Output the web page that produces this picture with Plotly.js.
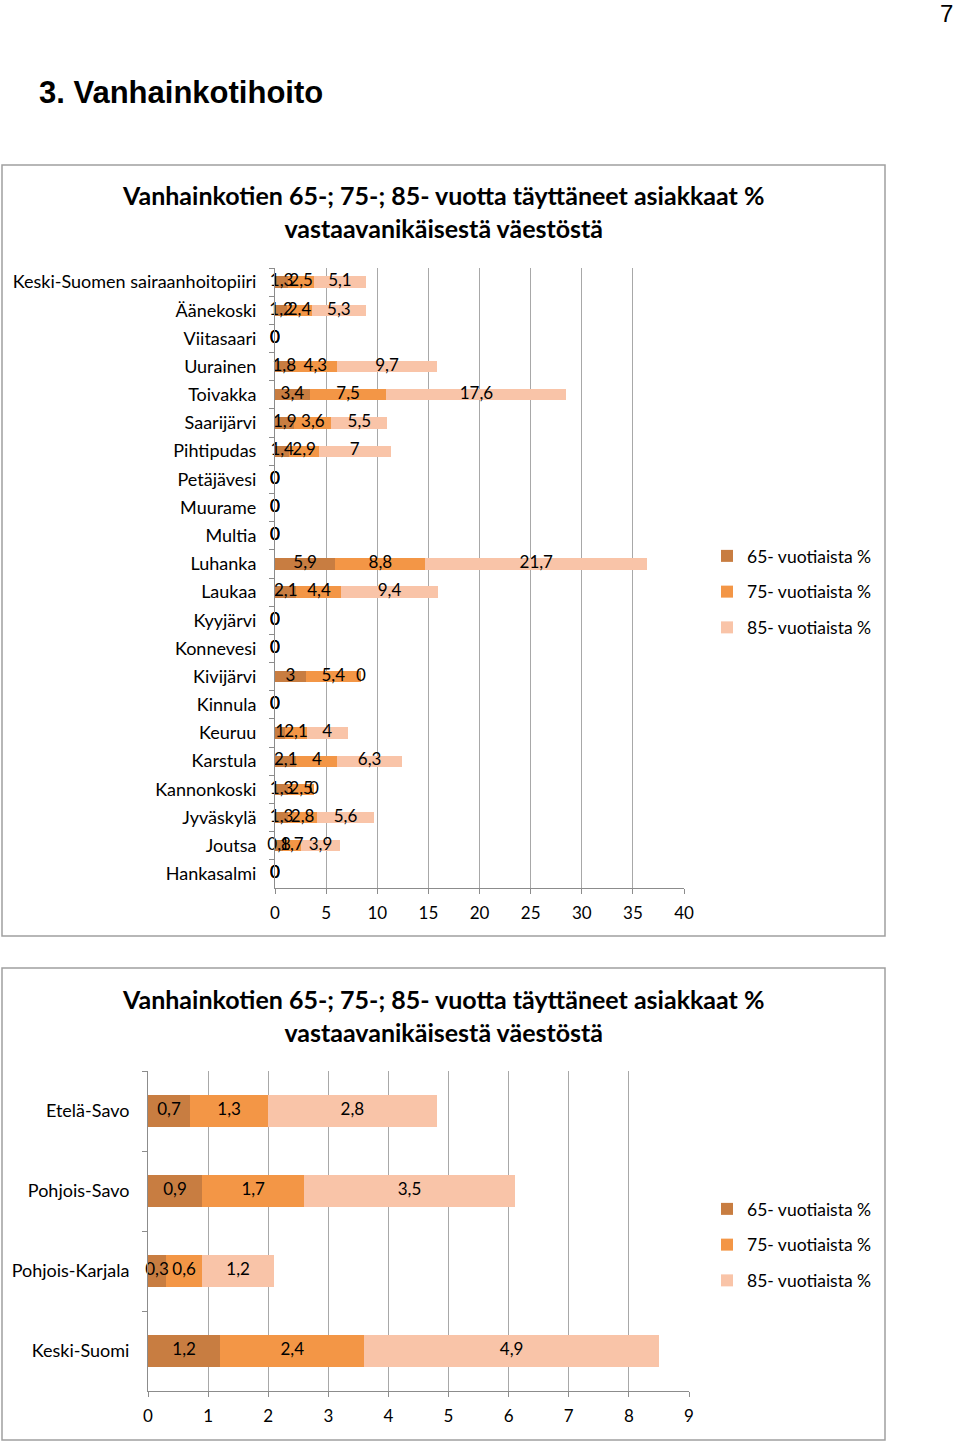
<!DOCTYPE html>
<html>
<head>
<meta charset="utf-8">
<script src="https://cdn.plot.ly/plotly-3.0.1.min.js"></script>
<style>
    html, body { margin: 0; padding: 0; background: #fff; }
    #page { width: 960px; height: 1442px; }
</style>
</head>
<body>
<div id="page"></div>
<script>
    'use strict';

    // top chart: Keski-Suomen kunnat
    var topCategories = ['Keski-Suomen sairaanhoitopiiri', 'Äänekoski', 'Viitasaari', 'Uurainen', 'Toivakka',
        'Saarijärvi', 'Pihtipudas', 'Petäjävesi', 'Muurame', 'Multia', 'Luhanka', 'Laukaa', 'Kyyjärvi',
        'Konnevesi', 'Kivijärvi', 'Kinnula', 'Keuruu', 'Karstula', 'Kannonkoski', 'Jyväskylä', 'Joutsa', 'Hankasalmi'];
    var top65 = [1.3, 1.2, 0, 1.8, 3.4, 1.9, 1.4, 0, 0, 0, 5.9, 2.1, 0, 0, 3, 0, 1, 2.1, 1.3, 1.3, 0.8, 0];
    var top75 = [2.5, 2.4, 0, 4.3, 7.5, 3.6, 2.9, 0, 0, 0, 8.8, 4.4, 0, 0, 5.4, 0, 2.1, 4, 2.5, 2.8, 1.7, 0];
    var top85 = [5.1, 5.3, 0, 9.7, 17.6, 5.5, 7, 0, 0, 0, 21.7, 9.4, 0, 0, 0, 0, 4, 6.3, 0, 5.6, 3.9, 0];
    var topTicks = [0, 5, 10, 15, 20, 25, 30, 35, 40];

    // bottom chart: maakunnat
    var bottomCategories = ['Etelä-Savo', 'Pohjois-Savo', 'Pohjois-Karjala', 'Keski-Suomi'];
    var bottom65 = [0.7, 0.9, 0.3, 1.2];
    var bottom75 = [1.3, 1.7, 0.6, 2.4];
    var bottom85 = [2.8, 3.5, 1.2, 4.9];
    var bottomTicks = [0, 1, 2, 3, 4, 5, 6, 7, 8, 9];

    var seriesNames = ['65- vuotiaista %', '75- vuotiaista %', '85- vuotiaista %'];
    var chartTitle = 'Vanhainkotien 65-; 75-; 85- vuotta täyttäneet asiakkaat %<br>vastaavanikäisestä väestöstä';
    var pageTitle = '3. Vanhainkotihoito';
    var pageNumber = '7';

    var W = 960, H = 1442;
    var FONT = 'Lato, "Open Sans", sans-serif';
    var colors = ['#C87D41', '#F39646', '#F9C4A8'];
    var gridColor = '#A8A8A8';
    var lineColor = '#8C8C8C';

    function px(x) { return x / W; }
    function py(y) { return 1 - y / H; }

    function fmt(v) {
        return String(v).replace('.', ',');
    }

    // builds the 3 stacked bar traces + label traces for one subplot
    function buildTraces(categories, series, xa, ya, legendRef, groupPrefix) {
        var traces = [];
        var start = categories.map(function () { return 0; });
        series.forEach(function (values, i) {
            traces.push({
                type: 'bar',
                orientation: 'h',
                name: seriesNames[i],
                x: values,
                y: categories,
                xaxis: xa,
                yaxis: ya,
                legend: legendRef,
                legendgroup: groupPrefix + i,
                marker: { color: colors[i], line: { width: 0 } },
                hoverinfo: 'skip'
            });
            // labels sit in the middle of each stacked segment
            var mids = values.map(function (v, k) { return start[k] + v / 2; });
            traces.push({
                type: 'scatter',
                mode: 'text',
                x: mids,
                y: categories,
                xaxis: xa,
                yaxis: ya,
                text: values.map(fmt),
                textposition: 'middle center',
                textfont: { family: FONT, size: 17, color: '#000' },
                cliponaxis: false,
                showlegend: false,
                hoverinfo: 'skip'
            });
            start = start.map(function (s, k) { return s + values[k]; });
        });
        return traces;
    }

    var data = buildTraces(topCategories, [top65, top75, top85], 'x', 'y', 'legend', 't')
        .concat(buildTraces(bottomCategories, [bottom65, bottom75, bottom85], 'x2', 'y2', 'legend2', 'b'));

    function valueAxis(domain, ticks, anchor) {
        return {
            domain: domain,
            anchor: anchor,
            range: [ticks[0], ticks[ticks.length - 1]],
            tickvals: ticks,
            ticktext: ticks.map(String),
            showgrid: true,
            gridcolor: gridColor,
            gridwidth: 1,
            zeroline: false,
            showline: true,
            linecolor: lineColor,
            linewidth: 1,
            ticks: 'outside',
            ticklen: 5,
            tickcolor: lineColor,
            ticklabelstandoff: 5,
            tickfont: { family: FONT, size: 17, color: '#000' },
            fixedrange: true
        };
    }

    function categoryAxis(domain, anchor, cats) {
        return {
            domain: domain,
            anchor: anchor,
            type: 'category',
            categoryorder: 'array',
            categoryarray: cats,
            range: [cats.length - 0.5, -0.5],
            showgrid: false,
            zeroline: false,
            showline: true,
            linecolor: lineColor,
            linewidth: 1,
            ticks: 'outside',
            tickson: 'boundaries',
            ticklen: 5,
            tickcolor: lineColor,
            ticklabelstandoff: 14,
            tickfont: { family: FONT, size: 18, color: '#000' },
            fixedrange: true
        };
    }

    function legendAt(top) {
        return {
            x: px(707),
            xanchor: 'left',
            y: py(top),
            yanchor: 'top',
            font: { family: FONT, size: 17.5, color: '#000' },
            tracegroupgap: 10,
            bgcolor: 'rgba(0,0,0,0)',
            itemclick: false,
            itemdoubleclick: false
        };
    }

    var layout = {
        width: W,
        height: H,
        margin: { l: 0, r: 0, t: 0, b: 0 },
        paper_bgcolor: '#fff',
        plot_bgcolor: 'rgba(0,0,0,0)',
        barmode: 'stack',
        bargap: 0.6,
        showlegend: true,
        xaxis: valueAxis([px(275), px(684)], topTicks, 'y'),
        yaxis: categoryAxis([py(888), py(268)], 'x', topCategories),
        xaxis2: valueAxis([px(148), px(689)], bottomTicks, 'y2'),
        yaxis2: categoryAxis([py(1391), py(1071)], 'x2', bottomCategories),
        legend: legendAt(538),
        legend2: legendAt(1191),
        shapes: [
            { type: 'rect', xref: 'paper', yref: 'paper', x0: px(2), x1: px(885), y0: py(936), y1: py(165),
              line: { color: '#A0A0A0', width: 1.5 }, layer: 'below' },
            { type: 'rect', xref: 'paper', yref: 'paper', x0: px(2), x1: px(885), y0: py(1440), y1: py(968),
              line: { color: '#A0A0A0', width: 1.5 }, layer: 'below' }
        ],
        annotations: [
            { text: pageTitle, xref: 'paper', yref: 'paper', x: px(37), y: py(93), xanchor: 'left', yanchor: 'middle',
              showarrow: false, font: { family: '"Liberation Sans", Arial, sans-serif', size: 31, color: '#000', weight: 'bold' } },
            { text: pageNumber, xref: 'paper', yref: 'paper', x: px(955), y: py(14), xanchor: 'right', yanchor: 'middle',
              showarrow: false, font: { family: '"Liberation Sans", Arial, sans-serif', size: 24, color: '#000' } },
            { text: chartTitle, xref: 'paper', yref: 'paper', x: px(443), y: py(212), xanchor: 'center', yanchor: 'middle',
              showarrow: false, font: { family: FONT, size: 25, color: '#000', weight: 'bold' } },
            { text: chartTitle, xref: 'paper', yref: 'paper', x: px(443), y: py(1015), xanchor: 'center', yanchor: 'middle',
              showarrow: false, font: { family: FONT, size: 25, color: '#000', weight: 'bold' } }
        ]
    };

    Plotly.newPlot('page', data, layout, { displayModeBar: false, staticPlot: true });
</script>
</body>
</html>
